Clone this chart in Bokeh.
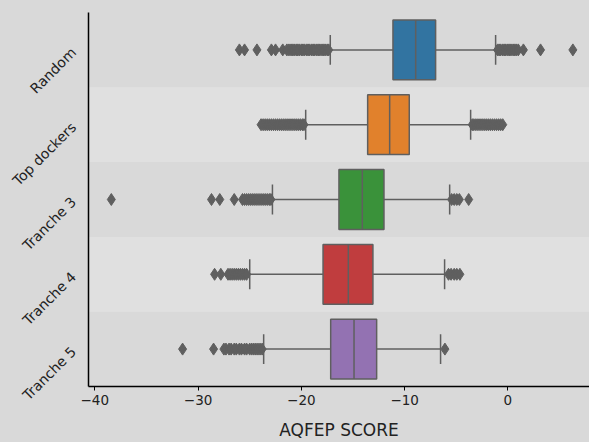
import math
from bokeh.plotting import figure
from bokeh.models import FactorRange, Range1d, FixedTicker, GlobalInlineStyleSheet
from bokeh.embed import file_html
from bokeh.resources import INLINE

# ---------------- data ----------------
categories = ["Random", "Top dockers", "Tranche 3", "Tranche 4", "Tranche 5"]
colors = ["#3274a1", "#e1812c", "#3a923a", "#c03d3e", "#9372b2"]

q1 = [-11.13, -13.58, -16.36, -17.90, -17.16]
median = [-8.93, -11.45, -14.10, -15.45, -14.90]
q3 = [-7.00, -9.55, -12.00, -13.07, -12.71]
whisker_low = [-17.2, -19.58, -22.8, -25.0, -23.65]
whisker_high = [-1.19, -3.61, -5.64, -6.13, -6.52]

outliers_random = [-26.0, -25.5, -24.3, -22.9, -22.5, -21.8,
                   -21.4, -21.2, -21.0, -20.85, -20.7, -20.5, -20.35, -20.2, -20.0,
                   -19.85, -19.7, -19.5, -19.35, -19.2, -19.0, -18.85, -18.7, -18.5,
                   -18.35, -18.2, -18.0, -17.85, -17.7, -17.5, -17.35,
                   -1.0, -0.85, -0.7, -0.5, -0.35, -0.2, 0.0, 0.15, 0.3, 0.5, 0.65,
                   0.8, 1.0, 1.5, 3.16, 6.29]
outliers_top = [-23.9, -23.7, -23.5, -23.3, -23.1, -22.9, -22.7, -22.5, -22.3, -22.1,
                -21.9, -21.7, -21.5, -21.3, -21.1, -20.9, -20.7, -20.5, -20.3, -20.1,
                -19.9, -19.75,
                -3.45, -3.3, -3.1, -2.9, -2.7, -2.5, -2.3, -2.1, -1.9, -1.7, -1.5,
                -1.3, -1.1, -0.9, -0.7, -0.5]
outliers_t3 = [-38.4, -28.7, -27.9, -26.5,
               -25.7, -25.5, -25.3, -25.1, -24.9, -24.7, -24.5, -24.3, -24.1, -23.9,
               -23.7, -23.5, -23.3, -23.1, -22.95,
               -5.45, -5.2, -4.95, -4.7, -3.8]
outliers_t4 = [-28.4, -27.8, -27.1, -26.9, -26.7, -26.5, -26.3, -26.1, -25.9, -25.7,
               -25.5, -25.3, -5.75, -5.5, -5.2, -4.95, -4.65]
outliers_t5 = [-31.5, -28.5, -27.5, -27.3, -27.0, -26.8, -26.5, -26.3, -26.0, -25.8,
               -25.5, -25.3, -25.0, -24.8, -24.6, -24.4, -24.2, -24.0, -23.8,
               -6.1]
outliers = [outliers_random, outliers_top, outliers_t3, outliers_t4, outliers_t5]

x_ticks = [-40, -30, -20, -10, 0]
x_label = "AQFEP SCORE"

# ---------------- style ----------------
BG = "#d9d9d9"
BAND = "#e0e0e0"
GREY = "#5f5f5f"
TEXT = "#222222"
FONT = "DejaVu Sans"
X_START, X_END = -40.61, 7.9

p = figure(width=589, height=442, output_backend="svg", toolbar_location=None,
           y_range=FactorRange(factors=list(reversed(categories)), range_padding=0),
           x_range=Range1d(X_START, X_END))
p.min_border_left = 88
p.min_border_top = 12
p.min_border_right = 0
p.min_border_bottom = 53
p.background_fill_color = BG
p.border_fill_color = BG
p.outline_line_color = None
p.xgrid.grid_line_color = None
p.ygrid.grid_line_color = None
p.stylesheets = [GlobalInlineStyleSheet(css="body { background: #d9d9d9; }")]

# alternating bands (odd rows lighter)
band_cats = [c for i, c in enumerate(categories) if i % 2 == 1]
p.hbar(y=band_cats, left=X_START, right=X_END, height=1.0,
       fill_color=BAND, line_color=None)

# whiskers
p.segment(x0=whisker_low, x1=q1, y0=categories, y1=categories, line_color=GREY, line_width=1.5)
p.segment(x0=q3, x1=whisker_high, y0=categories, y1=categories, line_color=GREY, line_width=1.5)
# caps
cap = 0.2
for xs in (whisker_low, whisker_high):
    p.segment(x0=xs, x1=xs, y0=[(c, -cap) for c in categories],
              y1=[(c, cap) for c in categories], line_color=GREY, line_width=1.5)

# boxes
p.hbar(y=categories, left=q1, right=q3, height=0.8, fill_color=colors,
       line_color=GREY, line_width=1.5)
# medians
half = 0.4
p.segment(x0=median, x1=median, y0=[(c, -half) for c in categories],
          y1=[(c, half) for c in categories], line_color=GREY, line_width=1.5)

# outliers
ox, oy = [], []
for c, vals in zip(categories, outliers):
    ox.extend(vals)
    oy.extend([c] * len(vals))
p.scatter(x=ox, y=oy, marker="diamond", size=12, fill_color=GREY, line_color=GREY)

# axes
p.xaxis.ticker = FixedTicker(ticks=x_ticks)
p.xaxis.major_label_overrides = {t: str(t).replace("-", "\u2212") for t in x_ticks}
p.xaxis.minor_tick_line_color = None
p.xaxis.major_tick_in = 0
p.xaxis.major_tick_out = 4
p.xaxis.major_tick_line_color = "black"
p.xaxis.axis_line_color = "black"
p.xaxis.axis_line_width = 1.5
p.xaxis.major_label_text_font = FONT
p.xaxis.major_label_text_font_size = "13.5px"
p.xaxis.major_label_text_color = TEXT
p.xaxis.major_label_standoff = 4
p.xaxis.axis_label = x_label
p.xaxis.axis_label_text_font = FONT
p.xaxis.axis_label_text_font_size = "17px"
p.xaxis.axis_label_text_font_style = "normal"
p.xaxis.axis_label_text_color = TEXT
p.xaxis.axis_label_standoff = 12

p.yaxis.major_tick_line_color = None
p.yaxis.minor_tick_line_color = None
p.yaxis.axis_line_color = "black"
p.yaxis.axis_line_width = 1.5
p.yaxis.major_label_orientation = math.pi / 4
p.yaxis.major_label_text_font = FONT
p.yaxis.major_label_text_font_size = "14px"
p.yaxis.major_label_text_color = TEXT
p.yaxis.major_label_standoff = 9

open("out.html", "w").write(file_html(p, INLINE))
